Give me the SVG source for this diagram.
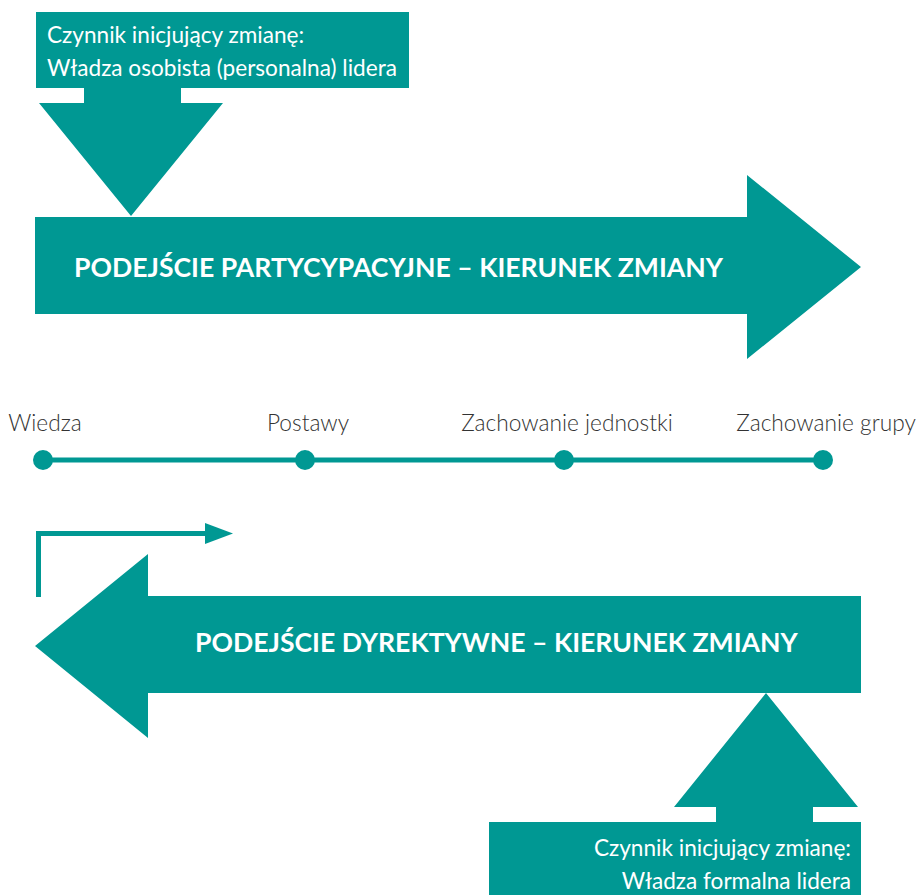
<svg xmlns="http://www.w3.org/2000/svg" width="919" height="895" viewBox="0 0 919 895">
<style>
.t{fill:#009893}
.w{font-family:Lato,"Open Sans","Liberation Sans",sans-serif;fill:#fff;font-size:22.6px}
.b{font-family:Lato,"Open Sans","Liberation Sans",sans-serif;fill:#fff;font-size:26.6px;font-weight:bold}
.l{font-family:Lato,"Open Sans","Liberation Sans",sans-serif;fill:#333;font-size:22.7px;font-weight:300;text-anchor:middle}
</style>
<rect width="919" height="895" fill="#fff"/>
<g id="top-factor">
<rect class="t" x="36" y="12" width="373" height="76"/>
<path class="t" d="M84 88H181V103H223L131 216L39 103H84Z"/>
<text class="w" x="47" y="43">Czynnik inicjujący zmianę:</text>
<text class="w" x="47" y="76">Władza osobista (personalna) lidera</text>
</g>
<g id="participative-arrow">
<path class="t" d="M35 217H747V175L861 267L747 359V314H35Z"/>
<text class="b" x="74" y="277">PODEJŚCIE PARTYCYPACYJNE – KIERUNEK ZMIANY</text>
</g>
<g id="timeline">
<line x1="43" y1="460" x2="823" y2="460" stroke="#009893" stroke-width="5"/>
<circle class="t" cx="43" cy="460" r="10"/>
<circle class="t" cx="305" cy="460" r="10"/>
<circle class="t" cx="564" cy="460" r="10"/>
<circle class="t" cx="823" cy="460" r="10"/>
<text class="l" x="45" y="431">Wiedza</text>
<text class="l" x="308" y="431">Postawy</text>
<text class="l" x="567" y="431">Zachowanie jednostki</text>
<text class="l" x="826" y="431">Zachowanie grupy</text>
</g>
<g id="connectors">
<path d="M38.5 597V533.5H208" fill="none" stroke="#009893" stroke-width="5"/>
<path class="t" d="M205 523L233 533.5L205 544Z"/>
</g>
<g id="directive-arrow">
<path class="t" d="M861 596H148V554L35 646L148 738V693H861Z"/>
<text class="b" x="195" y="652">PODEJŚCIE DYREKTYWNE – KIERUNEK ZMIANY</text>
</g>
<g id="bottom-factor">
<path class="t" d="M716 822V807H674L766 693L858 807H813V822Z"/>
<rect class="t" x="489" y="822" width="372" height="73"/>
<text class="w" x="851" y="856" text-anchor="end">Czynnik inicjujący zmianę:</text>
<text class="w" x="851" y="889" text-anchor="end">Władza formalna lidera</text>
</g>
</svg>
